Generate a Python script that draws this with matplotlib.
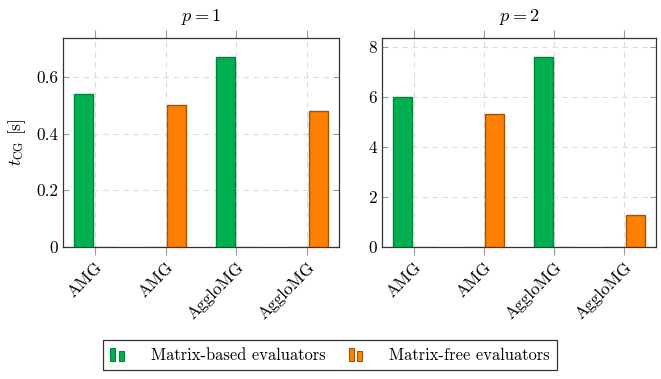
import matplotlib
matplotlib.use('Agg')
import matplotlib.pyplot as plt
from matplotlib.patches import Rectangle
from matplotlib.legend_handler import HandlerBase
from matplotlib.ticker import FuncFormatter, FixedLocator
import numpy as np

plt.rcParams['font.family'] = 'serif'
plt.rcParams['font.serif'] = ['cmr10']
plt.rcParams['mathtext.fontset'] = 'cm'
plt.rcParams['axes.formatter.use_mathtext'] = True

# ---------------- data ----------------
categories = ['AMG', 'AMG', 'AggloMG', 'AggloMG']
titles = ['$p = 1$', '$p = 2$']
series_names = ['Matrix-based evaluators', 'Matrix-free evaluators']
p1_matrix_based = [0.54, 0.0, 0.67, 0.0]
p1_matrix_free = [0.0, 0.50, 0.0, 0.48]
p2_matrix_based = [6.0, 0.0, 7.6, 0.0]
p2_matrix_free = [0.0, 5.3, 0.0, 1.3]
p1_yticks = [0, 0.2, 0.4, 0.6]
p2_yticks = [0, 2, 4, 6, 8]

# ---------------- style ----------------
green_fc, green_ec = '#00B050', '#00843A'
orange_fc, orange_ec = '#FF8000', '#A35400'
frame_col = '#333333'
tick_col = '#9a9a9a'
grid_col = '#dcdcdc'
FS = 12.4
LFS = 11.9

W, H = 661, 379
fig = plt.figure(figsize=(W / 100, H / 100), dpi=100)

def ax_rect(x0, x1, y0, y1):
    return [x0 / W, 1 - y1 / H, (x1 - x0) / W, (y1 - y0) / H]

axes = [fig.add_axes(ax_rect(63, 339, 38, 247)),
        fig.add_axes(ax_rect(382, 656, 38, 247))]

datasets = [(p1_matrix_based, p1_matrix_free, p1_yticks),
            (p2_matrix_based, p2_matrix_free, p2_yticks)]

x = np.arange(len(categories))
bw = 0.27
off = 0.155
for ax, title, (mb, mf, yt) in zip(axes, titles, datasets):
    b1 = ax.bar(x - off, mb, width=bw, color=green_fc, edgecolor=green_ec,
                linewidth=1.0, zorder=3)
    b2 = ax.bar(x + off, mf, width=bw, color=orange_fc, edgecolor=orange_ec,
                linewidth=1.0, zorder=3)
    for b in list(b1) + list(b2):
        if b.get_height() == 0:
            b.set_alpha(0.5)
    ymax = max(max(mb), max(mf)) * 1.1
    ax.set_ylim(0, ymax)
    ax.set_xlim(-0.45, len(categories) - 1 + 0.45)
    ax.xaxis.set_major_locator(FixedLocator(x))
    ax.set_xticklabels(categories, rotation=45, ha='right', va='top',
                       rotation_mode='anchor', fontsize=FS)
    ax.yaxis.set_major_locator(FixedLocator(yt))
    ax.yaxis.set_major_formatter(FuncFormatter(lambda v, p: '%g' % v))
    ax.tick_params(axis='y', direction='in', length=4, color=tick_col,
                   labelsize=FS, right=True, width=0.8)
    ax.tick_params(axis='x', direction='out', length=6, color=tick_col,
                   labelsize=FS, top=True, width=0.8, pad=3)
    ax.grid(True, linestyle=(0, (5, 4)), color=grid_col, linewidth=0.8, zorder=0)
    ax.set_axisbelow(True)
    for s in ax.spines.values():
        s.set_color(frame_col)
        s.set_linewidth(0.9)
    ax.set_title(title, fontsize=13.2, pad=12)

axes[0].set_ylabel(r'$t_{\mathrm{CG}}$ [s]', fontsize=FS, labelpad=6)


class BarPairHandler(HandlerBase):
    def create_artists(self, legend, orig_handle, xdescent, ydescent,
                       width, height, fontsize, trans):
        fc = orig_handle.get_facecolor()
        ec = orig_handle.get_edgecolor()
        x0 = -xdescent
        y0 = -ydescent - 1
        bwid = width * 0.36
        r1 = Rectangle((x0, y0), bwid, height * 1.15, facecolor=fc,
                       edgecolor=ec, linewidth=0.8, transform=trans)
        r2 = Rectangle((x0 + width * 0.6, y0), bwid, height * 0.9, facecolor=fc,
                       edgecolor=ec, linewidth=0.8, transform=trans)
        return [r1, r2]


legend_handles = [Rectangle((0, 0), 1, 1, facecolor=green_fc, edgecolor=green_ec),
                  Rectangle((0, 0), 1, 1, facecolor=orange_fc, edgecolor=orange_ec)]
leg = fig.legend(legend_handles, series_names, ncol=2, loc='center',
                 bbox_to_anchor=(330 / W, 1 - 355 / H), fontsize=LFS,
                 handler_map={Rectangle: BarPairHandler()},
                 handlelength=0.85, handletextpad=1.6, columnspacing=1.4,
                 fancybox=False, framealpha=1, edgecolor=frame_col,
                 borderpad=0.45)
leg.get_frame().set_linewidth(0.9)

fig.savefig('out.png', dpi=100)
